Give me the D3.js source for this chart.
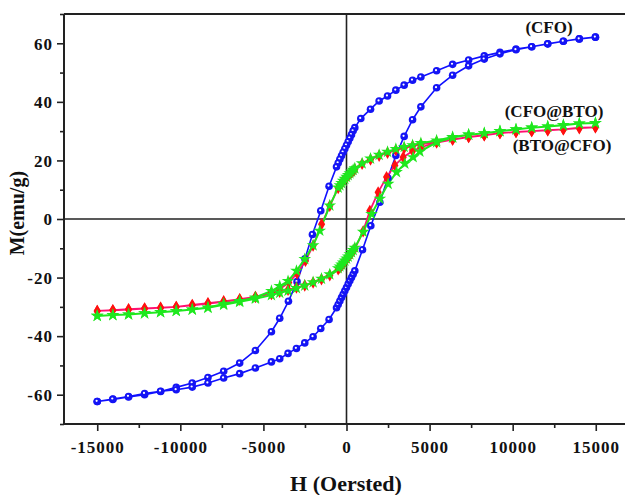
<!DOCTYPE html>
<html>
<head>
<meta charset="utf-8">
<script src="https://cdn.jsdelivr.net/npm/d3@7"></script>
<style>
  body { margin: 0; background: #fff; }
  svg { display: block; }
  text { font-family: 'Liberation Serif', 'Times New Roman', serif; font-weight: bold; fill: #111; }
  .axis path, .axis line { stroke: #222; }
</style>
</head>
<body>
<div id="chart"></div>
<script>
// H (Oe), M (emu/g), one loop per sample: down branch then up branch
var cfoDown = [[14980,62.1],[14010,61.5],[13050,60.7],[12110,59.8],[11145,58.8],[10200,58.0],[9235,56.9],[8290,55.7],[7350,54.3],[6386,52.8],[5422,50.6],[4476,48.5],[3976,47.4],[3470,45.7],[2970,44.0],[2470,42.0],[1964,40.3],[1446,37.5],[861,34.3],[500,31.2],[400,30.1],[300,28.8],[200,27.6],[100,26.4],[0,25.2],[-100,24.0],[-200,22.8],[-300,21.6],[-400,20.4],[-500,19.1],[-600,17.8],[-1048,11.2],[-1548,2.8],[-2050,-5.3],[-2500,-13.6],[-2976,-21.4],[-3494,-28.1],[-4018,-33.9],[-4518,-38.5],[-5482,-44.9],[-6428,-49.2],[-7392,-52.0],[-8337,-54.1],[-9283,-56.0],[-10247,-57.5],[-11187,-58.9],[-12150,-60.0],[-13115,-60.8],[-14060,-61.6],[-15000,-62.3]];
var cfoUp = [[-15000,-62.3],[-14060,-61.5],[-13115,-60.6],[-12150,-59.6],[-11187,-58.8],[-10247,-58.3],[-9283,-57.4],[-8337,-56.0],[-7392,-54.3],[-6428,-52.8],[-5482,-50.9],[-4518,-48.8],[-4018,-47.7],[-3518,-45.9],[-3012,-44.2],[-2512,-42.3],[-2010,-40.2],[-1548,-37.4],[-1048,-34.3],[-600,-30.3],[-500,-29.2],[-400,-28.0],[-300,-26.8],[-200,-25.7],[-100,-24.5],[0,-23.4],[100,-22.2],[200,-21.1],[300,-20.0],[400,-18.9],[500,-17.7],[964,-10.5],[1464,-2.3],[2006,5.7],[2490,14.0],[2970,21.7],[3470,28.2],[3976,33.9],[4476,38.3],[5422,44.8],[6386,49.1],[7349,52.3],[8290,54.6],[9235,56.4],[10200,57.8],[11145,58.8],[12108,59.8],[13050,60.7],[14010,61.5],[14980,62.1]];

var btoCfoDown = [[14980,31.3],[14010,31.2],[13050,30.6],[12110,30.3],[11145,30.0],[10200,29.7],[9235,29.3],[8290,28.6],[7350,28.0],[6386,27.1],[5422,26.3],[4476,25.5],[3976,24.9],[3470,24.2],[2970,23.5],[2470,22.6],[1964,21.6],[1446,20.3],[940,18.8],[500,16.9],[400,16.4],[300,15.9],[200,15.3],[100,14.8],[0,14.2],[-100,13.6],[-200,12.9],[-300,12.2],[-400,11.5],[-500,10.6],[-1006,4.5],[-1500,-1.8],[-2010,-9.1],[-2470,-14.3],[-2976,-18.6],[-3476,-21.7],[-4018,-24.0],[-4518,-25.2],[-5482,-26.6],[-6428,-27.4],[-7392,-28.1],[-8337,-28.7],[-9283,-29.3],[-10247,-30.0],[-11187,-30.3],[-12150,-30.5],[-13115,-30.8],[-14060,-31.1],[-15000,-31.4]];
var btoCfoUp = [[-15000,-31.4],[-14060,-31.2],[-13115,-30.9],[-12150,-30.6],[-11187,-30.3],[-10247,-30.0],[-9283,-29.5],[-8337,-28.9],[-7392,-28.3],[-6428,-27.5],[-5482,-26.6],[-4518,-25.6],[-4018,-24.9],[-3518,-24.2],[-3012,-23.4],[-2512,-22.7],[-2010,-21.7],[-1506,-20.6],[-1006,-19.2],[-500,-17.2],[-400,-16.6],[-300,-16.0],[-200,-15.3],[-100,-14.6],[0,-13.8],[100,-13.1],[200,-12.4],[300,-11.6],[400,-10.9],[500,-10.2],[1000,-4.2],[1404,2.8],[1904,9.1],[2410,14.3],[2910,18.3],[3410,21.1],[3976,23.2],[4476,24.5],[5422,26.1],[6386,27.1],[7350,28.0],[8290,28.6],[9235,29.3],[10200,29.7],[11145,30.0],[12110,30.3],[13050,30.6],[14010,31.0],[14980,31.3]];

var cfoBtoDown = [[14980,32.8],[14010,32.6],[13050,32.0],[12110,31.6],[11145,31.2],[10200,30.6],[9235,30.0],[8290,29.3],[7350,28.8],[6386,28.0],[5422,26.8],[4476,25.9],[3976,25.2],[3470,24.6],[2970,23.9],[2470,22.9],[1964,21.9],[1446,20.6],[940,19.0],[500,17.3],[400,16.8],[300,16.2],[200,15.6],[100,15.0],[0,14.4],[-100,13.7],[-200,13.0],[-300,12.3],[-400,11.5],[-500,10.7],[-1006,4.6],[-1608,-4.0],[-2010,-9.0],[-2512,-13.7],[-3012,-17.7],[-3518,-21.2],[-4018,-22.9],[-4518,-24.6],[-5482,-26.8],[-6428,-28.0],[-7392,-29.0],[-8337,-30.2],[-9283,-30.9],[-10247,-31.4],[-11187,-31.8],[-12150,-32.2],[-13115,-32.6],[-14060,-32.8],[-15000,-33.1]];
var cfoBtoUp = [[-15000,-33.1],[-14060,-32.8],[-13115,-32.6],[-12150,-32.2],[-11187,-31.8],[-10247,-31.4],[-9283,-30.9],[-8337,-30.3],[-7392,-29.3],[-6428,-28.3],[-5482,-27.2],[-4518,-26.0],[-4018,-25.2],[-3518,-24.5],[-3012,-23.6],[-2512,-22.7],[-2010,-21.6],[-1506,-20.4],[-1006,-18.9],[-500,-16.8],[-400,-16.2],[-300,-15.6],[-200,-14.9],[-100,-14.2],[0,-13.5],[100,-12.8],[200,-12.1],[300,-11.3],[400,-10.6],[500,-9.8],[1006,-4.4],[1506,1.7],[2006,6.9],[2506,12.0],[3012,16.0],[3512,18.9],[4012,21.1],[4416,23.0],[5422,26.2],[6386,27.8],[7350,28.8],[8290,29.3],[9235,30.0],[10200,30.6],[11145,31.2],[12110,31.6],[13050,32.1],[14010,32.6],[14980,32.8]];

var xTicks = [-15000,-10000,-5000,0,5000,10000,15000];
var xMinor = [-12500,-7500,-2500,2500,7500,12500];
var yTicks = [-60,-40,-20,0,20,40,60];
var yMinor = [-70,-50,-30,-10,10,30,50,70];

var width = 625, height = 495;
var margin = {left: 64, right: 629, top: 14, bottom: 424};

var svg = d3.select('#chart')
    .append('svg')
    .attr('width', width)
    .attr('height', height);

var x = d3.scaleLinear().domain([-17000, 17000]).range([margin.left, margin.right]);
var y = d3.scaleLinear().domain([-70, 70]).range([margin.bottom, margin.top]);

// frame and zero lines
svg.append('line')
    .attr('x1', margin.left).attr('x2', width)
    .attr('y1', margin.top).attr('y2', margin.top)
    .attr('stroke', '#222').attr('stroke-width', 2);

svg.append('line')
    .attr('x1', margin.left).attr('x2', width)
    .attr('y1', y(0)).attr('y2', y(0))
    .attr('stroke', '#222').attr('stroke-width', 1.6);

svg.append('line')
    .attr('x1', x(0)).attr('x2', x(0))
    .attr('y1', margin.top).attr('y2', margin.bottom)
    .attr('stroke', '#222').attr('stroke-width', 1.6);

// axes
var fmt = d => String(d);

var xAxis = svg.append('g')
    .attr('class', 'axis')
    .attr('transform', `translate(0, ${margin.bottom})`)
    .call(d3.axisBottom(x).tickValues(xTicks).tickSize(7).tickPadding(10).tickFormat(fmt));

svg.append('g')
    .attr('class', 'axis minor')
    .attr('transform', `translate(0, ${margin.bottom})`)
    .call(d3.axisBottom(x).tickValues(xMinor).tickSize(4).tickFormat(''))
    .select('.domain').remove();

var yAxis = svg.append('g')
    .attr('class', 'axis')
    .attr('transform', `translate(${margin.left}, 0)`)
    .call(d3.axisLeft(y).tickValues(yTicks).tickSize(7).tickPadding(4).tickFormat(fmt));

svg.append('g')
    .attr('class', 'axis minor')
    .attr('transform', `translate(${margin.left}, 0)`)
    .call(d3.axisLeft(y).tickValues(yMinor).tickSize(4).tickFormat(''))
    .select('.domain').remove();

xAxis.select('.domain').attr('d', `M${margin.left},0H${width}`).attr('stroke-width', 2);
yAxis.select('.domain').attr('d', `M0,${margin.top}V${margin.bottom}`).attr('stroke-width', 2);
svg.selectAll('.axis line').attr('stroke-width', 1.6);

svg.selectAll('.axis text')
    .attr('font-size', 17)
    .attr('letter-spacing', 1)
    .attr('fill', '#111');

xAxis.selectAll('text').attr('dy', '0.71em');
yAxis.selectAll('text').attr('dy', '0.34em');

// axis titles
svg.append('text')
    .attr('x', 346)
    .attr('y', 491)
    .attr('text-anchor', 'middle')
    .attr('font-size', 22)
    .text('H (Oersted)');

svg.append('text')
    .attr('transform', `translate(24, ${y(2)})rotate(-90)`)
    .attr('text-anchor', 'middle')
    .attr('font-size', 20)
    .text('M(emu/g)');

// loops
var line = d3.line()
    .x(d => x(d[0]))
    .y(d => y(d[1]));

var series = [
    {name: 'cfo', pts: cfoDown.concat(cfoUp), stroke: '#1010ff', w: 1.6},
    {name: 'btocfo', pts: btoCfoDown.concat(btoCfoUp), stroke: '#ff1070', w: 1.8},
    {name: 'cfobto', pts: cfoBtoDown.concat(cfoBtoUp), stroke: '#1ee81e', w: 2}
];

series.forEach(function(s) {
    svg.append('path')
        .datum(s.pts)
        .attr('d', line)
        .attr('fill', 'none')
        .attr('stroke', s.stroke)
        .attr('stroke-width', s.w);
});

// blue balls: solid disc plus a small white highlight
var balls = svg.append('g')
    .selectAll('g')
    .data(cfoDown.concat(cfoUp))
    .join('g')
    .attr('transform', d => `translate(${x(d[0])}, ${y(d[1])})`);

balls.append('circle')
    .attr('r', 3.8)
    .attr('fill', '#1414f5');

balls.append('circle')
    .attr('cx', -0.6)
    .attr('cy', -0.6)
    .attr('r', 1.1)
    .attr('fill', '#ffffff');

svg.append('g')
    .selectAll('path')
    .data(btoCfoDown.concat(btoCfoUp))
    .join('path')
    .attr('d', d3.symbol().type(d3.symbolDiamond).size(44))
    .attr('transform', d => `translate(${x(d[0])}, ${y(d[1])})`)
    .attr('fill', '#ff1010');

svg.append('g')
    .selectAll('path')
    .data(cfoBtoDown.concat(cfoBtoUp))
    .join('path')
    .attr('d', d3.symbol().type(d3.symbolStar).size(50))
    .attr('transform', d => `translate(${x(d[0])}, ${y(d[1])})`)
    .attr('fill', '#1ee81e');

// sample labels
svg.append('text')
    .attr('x', 549).attr('y', 33)
    .attr('text-anchor', 'middle')
    .attr('font-size', 17)
    .text('(CFO)');

svg.append('text')
    .attr('x', 554).attr('y', 117)
    .attr('text-anchor', 'middle')
    .attr('font-size', 17)
    .text('(CFO@BTO)');

svg.append('text')
    .attr('x', 562).attr('y', 151)
    .attr('text-anchor', 'middle')
    .attr('font-size', 17)
    .text('(BTO@CFO)');
</script>
</body>
</html>
